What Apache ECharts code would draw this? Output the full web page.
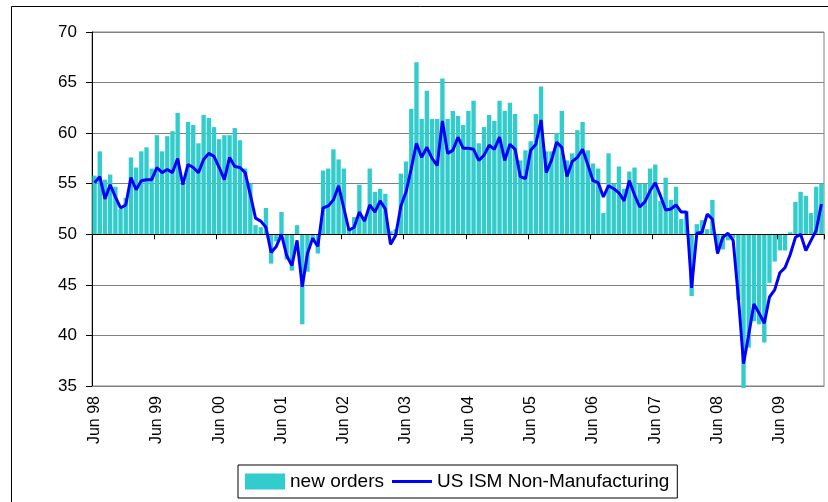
<!DOCTYPE html>
<html>
<head>
<meta charset="utf-8">
<script src="https://cdn.jsdelivr.net/npm/echarts@6/dist/echarts.min.js"></script>
<style>
html,body{margin:0;padding:0;background:#fff;}
#chart{width:828px;height:502px;}
</style>
</head>
<body>
<div id="chart"></div>
<script>
// ---- data (monthly, Jun 1998 .. Feb 2010) ----
var monthNames = ['Jan','Feb','Mar','Apr','May','Jun','Jul','Aug','Sep','Oct','Nov','Dec'];
var firstMonth = 5;   // Jun
var firstYear = 1998;
var monthCount = 141;

var newOrders = [
 55.8,58.2,55.4,55.9,54.7,52.5,53.6,57.6,56.6,58.2,58.6,56.5,
 59.8,58.2,59.7,60.2,62.0,55.0,61.1,60.8,59.0,61.8,61.5,60.6,
 59.4,59.8,59.8,60.5,59.3,56.5,55.0,50.9,50.7,52.6,47.1,49.3,
 52.2,47.5,46.4,50.9,41.1,46.3,49.5,48.1,56.3,56.5,58.4,57.4,
 56.5,50.6,51.7,54.9,51.5,56.5,54.2,54.5,54.0,50.3,50.5,56.0,
 57.2,62.4,67.0,61.4,64.2,61.4,61.4,65.4,61.4,62.2,61.7,60.8,
 62.2,63.2,59.0,60.6,61.8,61.2,63.2,62.2,63.0,61.9,57.3,58.3,
 59.2,61.9,64.6,58.2,58.2,60.0,62.2,57.3,58.0,60.3,61.1,58.3,
 57.0,56.5,52.1,58.0,55.0,56.7,54.5,56.2,56.6,55.0,55.0,56.5,
 56.9,53.3,55.6,53.4,54.7,51.5,52.3,43.9,51.0,51.4,50.5,53.4,
 48.4,48.5,49.4,49.6,43.5,34.8,38.8,41.4,41.1,39.3,45.2,47.3,
 48.4,48.4,50.2,53.2,54.2,53.8,52.1,54.7,55.0
];

var ismNonMfg = [
 55.1,55.7,53.5,54.9,53.7,52.6,52.9,55.6,54.4,55.3,55.4,55.4,
 56.6,56.1,56.4,56.1,57.5,54.9,56.9,56.6,56.1,57.4,58.0,57.7,
 56.6,55.4,57.6,56.7,56.6,56.1,53.9,51.6,51.3,50.7,48.2,48.8,
 50.0,47.9,46.9,49.4,44.8,48.1,49.6,48.8,52.6,52.8,53.4,54.8,
 52.6,50.4,50.7,52.2,51.3,52.9,52.2,53.3,52.5,49.0,49.9,52.8,
 54.2,56.5,59.0,57.6,58.6,57.5,56.8,61.2,58.0,58.3,59.6,58.5,
 58.5,58.4,57.3,57.8,58.8,58.4,59.6,57.3,58.9,58.4,55.7,55.5,
 58.3,58.9,61.3,56.1,57.3,59.1,58.6,55.7,57.2,57.6,58.4,56.9,
 55.3,55.1,53.7,54.8,54.5,54.1,53.3,55.3,53.9,52.7,53.2,54.3,
 55.1,53.8,52.4,52.5,52.9,52.2,52.2,44.7,50.1,50.2,52.0,51.5,
 48.1,49.7,50.1,49.4,43.8,37.2,40.1,43.1,42.2,41.2,43.8,44.5,
 46.2,46.7,48.0,49.7,50.0,48.4,49.4,50.4,53.0
];

var yTicks = {min: 35, max: 70, step: 5};
var baseLevel = 50;   // category axis crosses here

// ---- build categories ----
var categories = [];
for (var k = 0; k < monthCount; k++) {
  var m = (firstMonth + k) % 12;
  var y = firstYear + Math.floor((firstMonth + k) / 12);
  categories.push(monthNames[m] + ' ' + String(y % 100).padStart(2, '0'));
}

var FONT = '"Liberation Sans", Arial, sans-serif';
var chart = echarts.init(document.getElementById('chart'), null, {renderer: 'canvas'});

var option = {
  animation: false,
  backgroundColor: '#ffffff',
  textStyle: {fontFamily: FONT, color: '#000'},
  graphic: [{
    type: 'rect', left: 9, top: 4, silent: true, z: 100,
    shape: {width: 840, height: 520},
    style: {fill: 'none', stroke: '#000', lineWidth: 1}
  }],
  grid: {
    left: 92, right: 4, top: 32, bottom: 116,
    show: true, borderColor: '#808080', borderWidth: 1, backgroundColor: 'transparent'
  },
  legend: {
    left: 238, top: 465,
    padding: [7, 8, 7, 7],
    itemWidth: 40, itemHeight: 16, itemGap: 8,
    borderColor: '#000', borderWidth: 1,
    symbolKeepAspect: true,
    textStyle: {fontFamily: FONT, fontSize: 19, color: '#000'},
    data: [
      {name: 'new orders', icon: 'rect'},
      {name: 'US ISM Non-Manufacturing', icon: 'path://M0,0L40,0L40,3L0,3Z'}
    ]
  },
  xAxis: [{
    type: 'category', data: categories, boundaryGap: true, position: 'bottom',
    axisLine: {show: true, onZero: false, lineStyle: {color: '#808080', width: 1}},
    axisTick: {show: false},
    axisLabel: {interval: 11, rotate: 90, margin: 10, fontSize: 16, fontFamily: FONT, color: '#000'},
    splitLine: {show: false}
  }, {
    type: 'category', data: categories, boundaryGap: true, position: 'bottom', z: 3,
    axisLine: {show: true, onZero: true, onZeroAxisIndex: 1, lineStyle: {color: '#000', width: 1}},
    axisTick: {show: true, interval: 11, length: 5, lineStyle: {color: '#000'}},
    axisLabel: {show: false},
    splitLine: {show: false}
  }],
  yAxis: [{
    type: 'value', min: yTicks.min, max: yTicks.max, interval: yTicks.step,
    axisLine: {show: true, lineStyle: {color: '#000', width: 1}},
    axisTick: {show: true, length: 6, lineStyle: {color: '#000'}},
    axisLabel: {fontSize: 17, fontFamily: FONT, color: '#000', margin: 15},
    splitLine: {show: true, lineStyle: {color: '#808080', width: 1}}
  }, {
    type: 'value', show: false,
    min: yTicks.min - baseLevel, max: yTicks.max - baseLevel,
    splitLine: {show: false}
  }],
  series: [{
    name: 'new orders',
    type: 'custom',
    xAxisIndex: 0, yAxisIndex: 0,
    itemStyle: {color: '#33CCCC'},
    encode: {x: 0, y: 1},
    data: newOrders.map(function (v, i) { return [i, v]; }),
    renderItem: function (params, api) {
      var i = api.value(0), v = api.value(1);
      var pTop = api.coord([i, v]);
      var pBase = api.coord([i, baseLevel]);
      var w = api.size([1, 0])[0] * 0.84;
      return {
        type: 'rect',
        shape: {x: pTop[0] - w / 2, y: Math.min(pTop[1], pBase[1]), width: w, height: Math.abs(pTop[1] - pBase[1])},
        style: {fill: api.visual('color')}
      };
    },
    z: 2
  }, {
    name: 'US ISM Non-Manufacturing',
    type: 'line',
    xAxisIndex: 0, yAxisIndex: 0,
    data: ismNonMfg,
    symbol: 'none',
    lineStyle: {color: '#0000FF', width: 3},
    itemStyle: {color: '#0000FF'},
    z: 5
  }]
};
chart.setOption(option);
</script>
</body>
</html>
